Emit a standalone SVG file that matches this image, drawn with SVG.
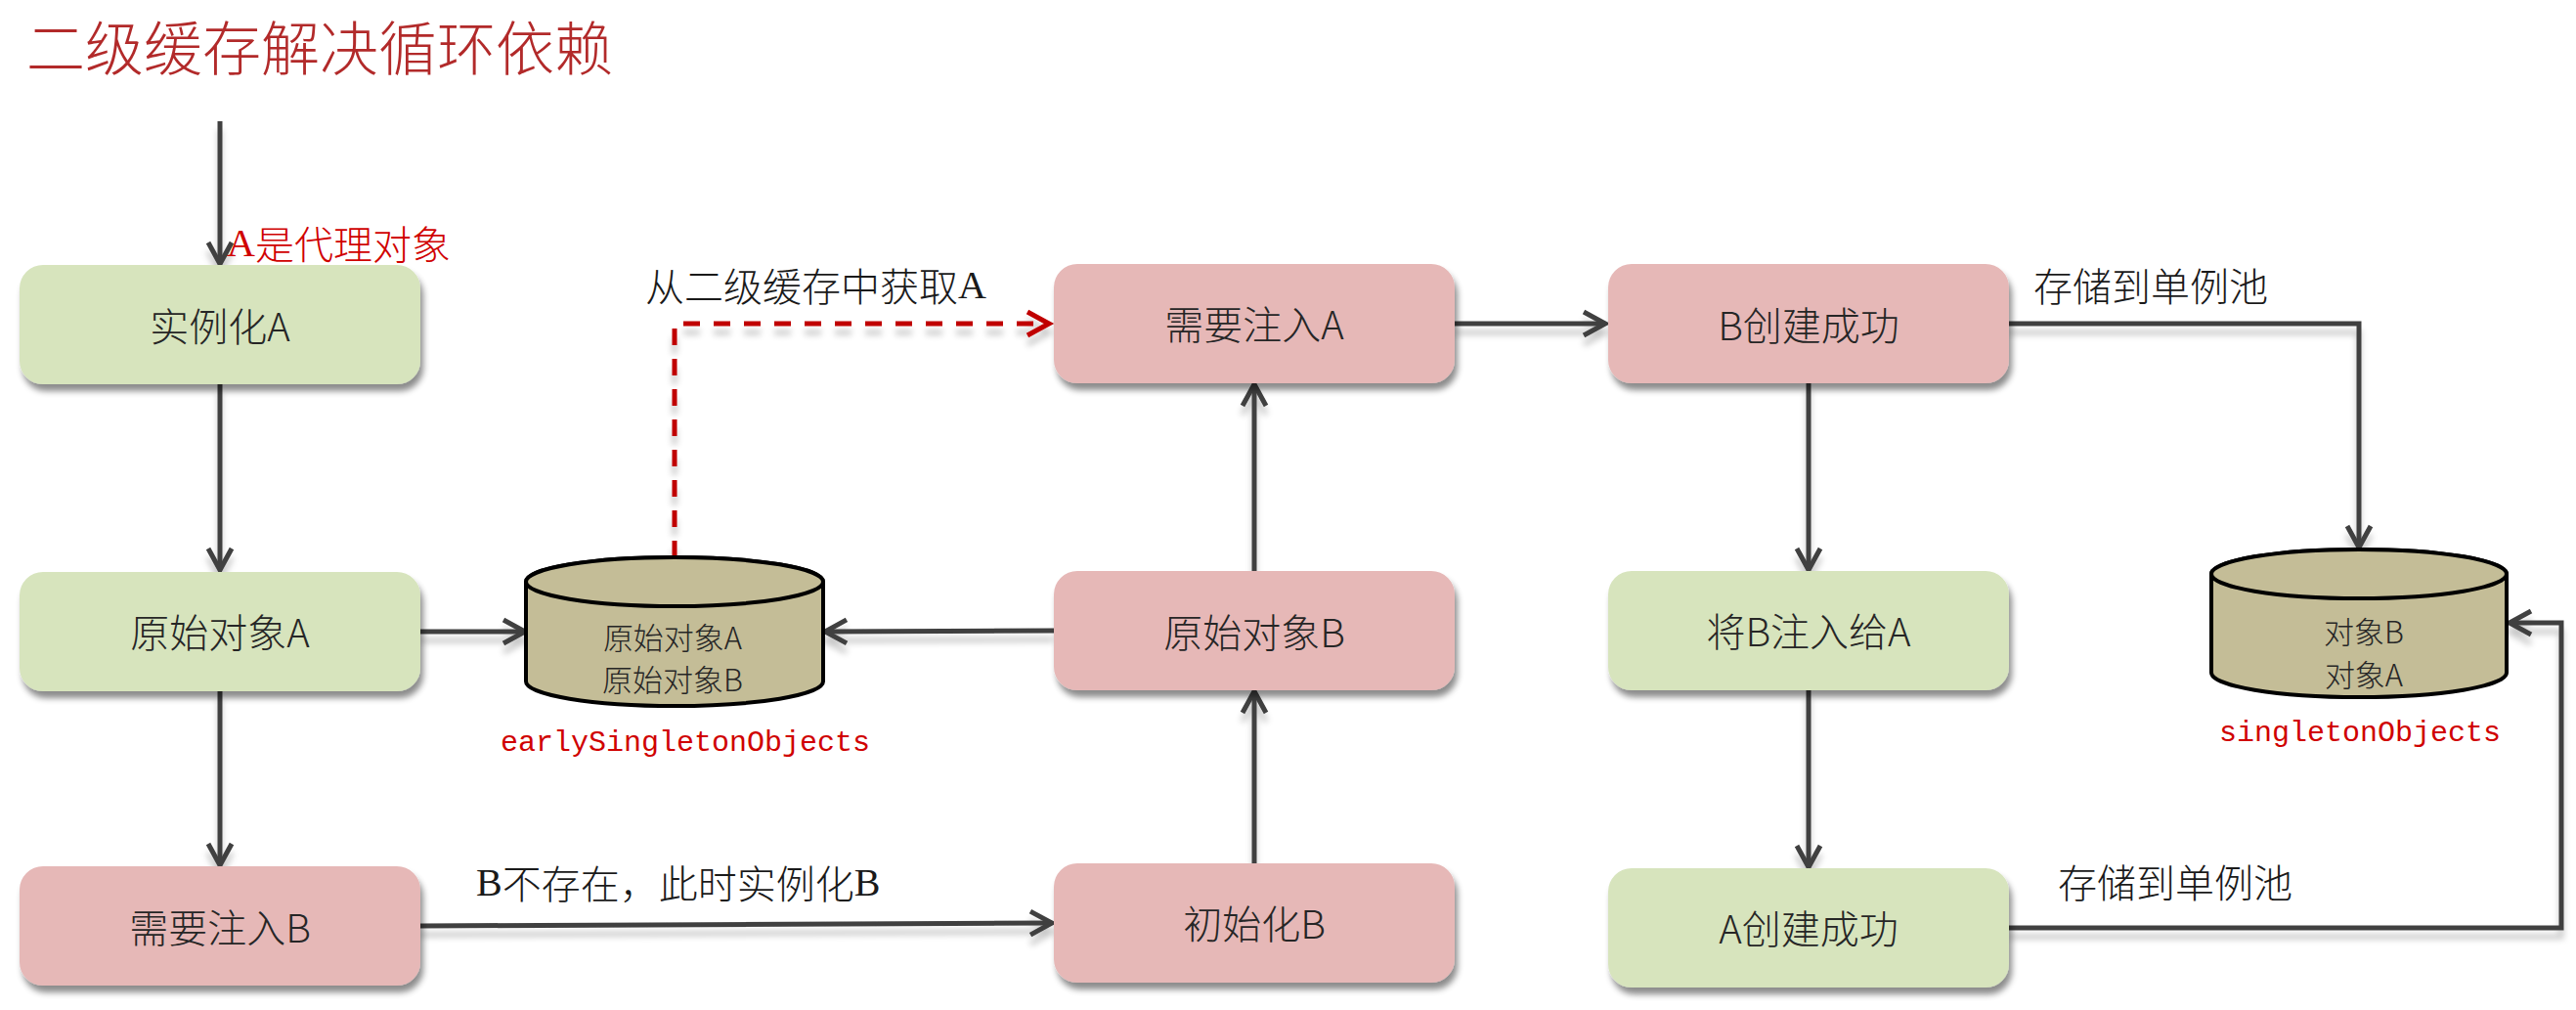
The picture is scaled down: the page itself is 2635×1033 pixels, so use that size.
<svg xmlns="http://www.w3.org/2000/svg" width="2635" height="1033" viewBox="0 0 2635 1033">
<style>
  .node { stroke: none; }
  .green { fill: #d7e4bd; }
  .pink { fill: #e6b8b7; }
  .ntext { font-family: "Noto Sans CJK SC", "Noto Sans", sans-serif; font-size: 40px; font-weight: 300; fill: #262626; text-anchor: middle; dominant-baseline: central; }
  .label { font-family: "Noto Sans CJK SC", sans-serif; font-size: 40px; font-weight: 300; fill: #1a1a1a; dominant-baseline: central; }
  .lat { font-family: "Liberation Serif", serif; font-weight: 400; }
  .red { fill: #d00000; }
  .mono { font-family: "Liberation Mono", monospace; font-size: 30px; fill: #d00000; text-anchor: middle; dominant-baseline: central; }
  .cyl { fill: #c4bd97; stroke: #000; stroke-width: 4; }
  .ctext { font-family: "Noto Sans CJK SC", "Noto Sans", sans-serif; font-size: 31px; font-weight: 300; fill: #262626; text-anchor: middle; dominant-baseline: central; }
  .conn { fill: none; stroke: #404040; stroke-width: 5; }
  .dash { fill: none; stroke: #c00000; stroke-width: 5; stroke-dasharray: 17 14; }
</style>
<defs>
  <filter id="boxShadow" x="-10%" y="-20%" width="120%" height="150%">
    <feDropShadow dx="3" dy="7" stdDeviation="3" flood-color="#000" flood-opacity="0.45"/>
  </filter>
  <filter id="lineShadow" x="-10%" y="-10%" width="120%" height="130%">
    <feDropShadow dx="0" dy="9" stdDeviation="3" flood-color="#000" flood-opacity="0.22"/>
  </filter>
  <marker id="arrow" markerUnits="userSpaceOnUse" viewBox="-30 -18 36 36" markerWidth="36" markerHeight="36" refX="0" refY="0" orient="auto">
    <path d="M-22,-12 L0,0 L-22,12" fill="none" stroke="#404040" stroke-width="5"/>
  </marker>
  <marker id="arrowRed" markerUnits="userSpaceOnUse" viewBox="-30 -18 36 36" markerWidth="36" markerHeight="36" refX="0" refY="0" orient="auto">
    <path d="M-22,-12 L0,0 L-22,12" fill="none" stroke="#c00000" stroke-width="5"/>
  </marker>
</defs>
<rect width="2635" height="1033" fill="#ffffff"/>

<text id="title" x="27" y="45" font-family="Noto Sans CJK SC, sans-serif" font-size="60" font-weight="300" fill="#b22a2a" dominant-baseline="central">二级缓存解决循环依赖</text>

<g id="connectors" filter="url(#lineShadow)">
  <path class="conn" d="M225,124 L225,270" marker-end="url(#arrow)"/>
  <path class="conn" d="M225,393 L225,583" marker-end="url(#arrow)"/>
  <path class="conn" d="M225,707 L225,885" marker-end="url(#arrow)"/>
  <path class="conn" d="M430,646 L537,646" marker-end="url(#arrow)"/>
  <path class="conn" d="M1078,645 L844,646" marker-end="url(#arrow)"/>
  <path class="conn" d="M430,947 L1076,944" marker-end="url(#arrow)"/>
  <path class="conn" d="M1283,883 L1283,707" marker-end="url(#arrow)"/>
  <path class="conn" d="M1283,584 L1283,393" marker-end="url(#arrow)"/>
  <path class="conn" d="M1488,331 L1642,331" marker-end="url(#arrow)"/>
  <path class="conn" d="M2055,331 L2413,331 L2413,560" marker-end="url(#arrow)"/>
  <path class="conn" d="M1850,391 L1850,583" marker-end="url(#arrow)"/>
  <path class="conn" d="M1850,705 L1850,887" marker-end="url(#arrow)"/>
  <path class="conn" d="M2055,949 L2620,949 L2620,637 L2567,637" marker-end="url(#arrow)"/>
  <path class="dash" d="M690,570 L690,331 L1073,331" marker-end="url(#arrowRed)"/>
</g>

<g id="n_instA">
  <rect class="node green" x="20" y="271" width="410" height="122" rx="24" filter="url(#boxShadow)"/>
  <text class="ntext" x="225" y="332">实例化A</text>
</g>
<g id="n_rawA">
  <rect class="node green" x="20" y="585" width="410" height="122" rx="24" filter="url(#boxShadow)"/>
  <text class="ntext" x="225" y="645">原始对象A</text>
</g>
<g id="n_needB">
  <rect class="node pink" x="20" y="886" width="410" height="122" rx="24" filter="url(#boxShadow)"/>
  <text class="ntext" x="225" y="947">需要注入B</text>
</g>
<g id="n_needA">
  <rect class="node pink" x="1078" y="270" width="410" height="122" rx="24" filter="url(#boxShadow)"/>
  <text class="ntext" x="1283" y="330">需要注入A</text>
</g>
<g id="n_rawB">
  <rect class="node pink" x="1078" y="584" width="410" height="122" rx="24" filter="url(#boxShadow)"/>
  <text class="ntext" x="1283" y="645">原始对象B</text>
</g>
<g id="n_initB">
  <rect class="node pink" x="1078" y="883" width="410" height="122" rx="24" filter="url(#boxShadow)"/>
  <text class="ntext" x="1283" y="943">初始化B</text>
</g>
<g id="n_bDone">
  <rect class="node pink" x="1645" y="270" width="410" height="122" rx="24" filter="url(#boxShadow)"/>
  <text class="ntext" x="1850" y="331">B创建成功</text>
</g>
<g id="n_injectB">
  <rect class="node green" x="1645" y="584" width="410" height="122" rx="24" filter="url(#boxShadow)"/>
  <text class="ntext" x="1850" y="644">将B注入给A</text>
</g>
<g id="n_aDone">
  <rect class="node green" x="1645" y="888" width="410" height="122" rx="24" filter="url(#boxShadow)"/>
  <text class="ntext" x="1850" y="948">A创建成功</text>
</g>

<g id="n_early">
  <path class="cyl" d="M538,595 L538,697 A152,25 0 0 0 842,697 L842,595 A152,25 0 0 0 538,595 Z"/>
  <ellipse class="cyl" cx="690" cy="595" rx="152" ry="25"/>
  <text class="ctext" x="688" y="650">原始对象A</text>
  <text class="ctext" x="688" y="693">原始对象B</text>
  <text class="mono" x="701" y="760">earlySingletonObjects</text>
</g>
<g id="n_singleton">
  <path class="cyl" d="M2262,587 L2262,688 A151,25 0 0 0 2564,688 L2564,587 A151,25 0 0 0 2262,587 Z"/>
  <ellipse class="cyl" cx="2413" cy="587" rx="151" ry="25"/>
  <text class="ctext" x="2418" y="644">对象B</text>
  <text class="ctext" x="2418" y="688">对象A</text>
  <text class="mono" x="2414" y="750">singletonObjects</text>
</g>

<g id="labels">
  <text class="label red" x="232" y="248"><tspan class="lat">A</tspan>是代理对象</text>
  <text class="label" x="660" y="291">从二级缓存中获取<tspan class="lat">A</tspan></text>
  <text class="label" x="487" y="902"><tspan class="lat">B</tspan>不存在，此时实例化<tspan class="lat">B</tspan></text>
  <text class="label" x="2080" y="291">存储到单例池</text>
  <text class="label" x="2105" y="901">存储到单例池</text>
</g>
</svg>
